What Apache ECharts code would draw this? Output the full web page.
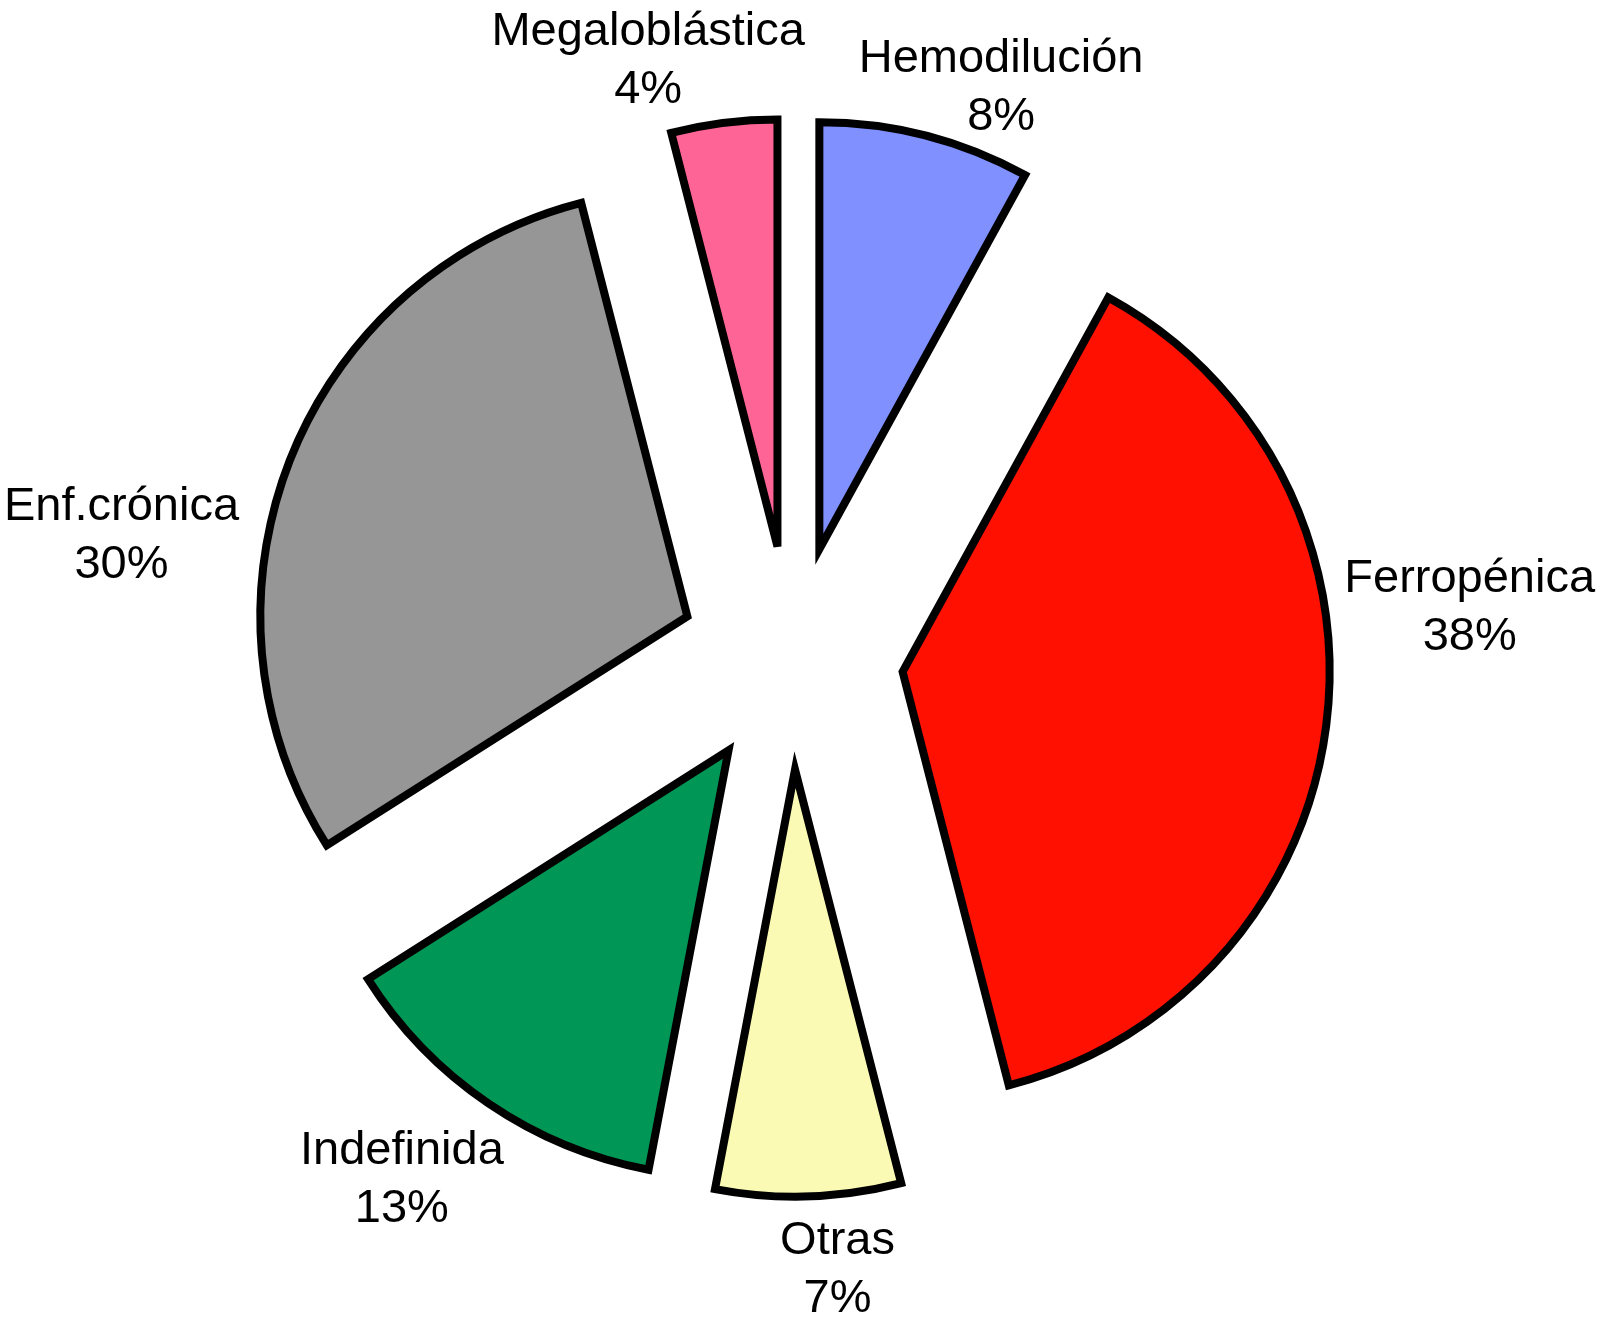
<!DOCTYPE html>
<html>
<head>
<meta charset="utf-8">
<script src="https://cdn.jsdelivr.net/npm/echarts@6/dist/echarts.min.js"></script>
<style>
  html, body { margin: 0; padding: 0; background: #ffffff; }
  #chart { width: 1604px; height: 1326px; }
</style>
</head>
<body>
<div id="chart"></div>
<script>
// ---- data ----
const categories = ['Hemodilución', 'Ferropénica', 'Otras', 'Indefinida', 'Enf.crónica', 'Megaloblástica'];
const values = [8, 38, 7, 13, 30, 4];

// ---- style / layout ----
const colors = ['#8090FF', '#FF1000', '#FAFAB4', '#009655', '#969696', '#FF6496'];
const pieCenter = [791.5, 657.7];
const pieRadius = 427;
const explode = 112;
// label placement (degrees clockwise from 12 o'clock, distance from pie centre in px)
const labelAngles = [20.2, 85.8, 175.7, 216.7, 280.3, 346.5];
const labelDists = [607, 680, 614, 652, 681, 614];

const total = values.reduce((a, b) => a + b, 0);
const rad = Math.PI / 180;

const series = [];
let cum = 0;
values.forEach((v, i) => {
  const mid = (cum + v / 2) / total * 360; // clockwise from top
  cum += v;
  const cx = pieCenter[0] + explode * Math.sin(mid * rad);
  const cy = pieCenter[1] - explode * Math.cos(mid * rad);
  const lx = pieCenter[0] + labelDists[i] * Math.sin(labelAngles[i] * rad);
  const ly = pieCenter[1] - labelDists[i] * Math.cos(labelAngles[i] * rad);
  series.push({
    type: 'pie',
    silent: true,
    animation: false,
    center: [cx, cy],
    radius: [0, pieRadius],
    startAngle: 90,
    clockwise: true,
    avoidLabelOverlap: false,
    labelLine: { show: false },
    label: {
      position: 'outside',
      formatter: '{b}\n{c}%',
      fontFamily: 'Liberation Sans',
      fontSize: 47,
      lineHeight: 58,
      color: '#000000'
    },
    labelLayout: function () {
      return { x: lx, y: ly, align: 'center', verticalAlign: 'middle' };
    },
    data: categories.map((name, j) => ({
      name: name,
      value: values[j],
      itemStyle: j === i
        ? { color: colors[j], borderColor: '#000000', borderWidth: 8, borderJoin: 'miter', borderMiterLimit: 5 }
        : { color: 'rgba(0,0,0,0)', borderWidth: 0 },
      label: { show: j === i }
    }))
  });
});

const chart = echarts.init(document.getElementById('chart'), null, { renderer: 'canvas' });
chart.setOption({
  backgroundColor: '#ffffff',
  animation: false,
  series: series
});
</script>
</body>
</html>
